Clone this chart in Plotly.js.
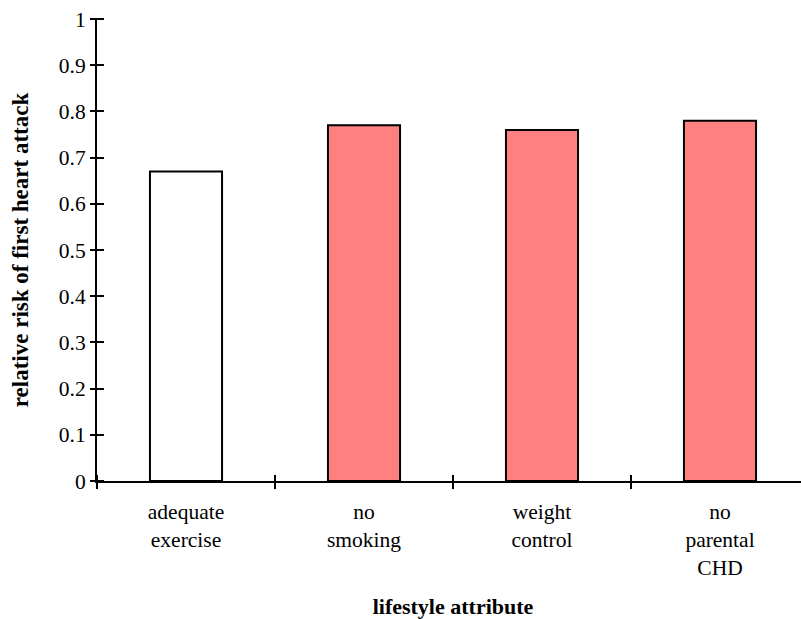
<!DOCTYPE html>
<html>
<head>
<meta charset="utf-8">
<script src="https://cdn.plot.ly/plotly-3.0.1.min.js"></script>
<style>
html, body { margin: 0; padding: 0; overflow: hidden; background: #fff; }
#chart { width: 812px; height: 619px; }
</style>
</head>
<body>
<div id="chart"></div>
<script>
const categories = ["adequate<br>exercise", "no<br>smoking", "weight<br>control", "no<br>parental<br>CHD"];
const relativeRisk = [0.67, 0.77, 0.76, 0.78];
const barColors = ["#FFFFFF", "#FF8080", "#FF8080", "#FF8080"];
const yTicks = [0, 0.1, 0.2, 0.3, 0.4, 0.5, 0.6, 0.7, 0.8, 0.9, 1];
const yTickText = ["0", "0.1", "0.2", "0.3", "0.4", "0.5", "0.6", "0.7", "0.8", "0.9", "1"];

const positions = categories.map((c, i) => i);
const boundaries = categories.map((c, i) => i - 0.5).concat([categories.length - 0.5]);
const xRange = [-0.5, categories.length - 0.5];

const tickFont = { family: "Liberation Serif", size: 21.5, color: "#000" };
const xTitleFont = { family: "Liberation Serif", size: 22, color: "#000", weight: "bold" };
const yTitleFont = { family: "Liberation Serif", size: 23, color: "#000", weight: "bold" };

// plot-area size; tick-only axes are shifted inward by half a tick so ticks cross the axis lines
const plotW = 712, plotH = 462, halfTick = 7;

const bars = {
  type: "bar",
  x: positions,
  y: relativeRisk,
  width: 0.405,
  marker: { color: barColors, line: { color: "#000", width: 2 } },
  hoverinfo: "y",
  xaxis: "x",
  yaxis: "y"
};
// empty helper traces so the overlaid label/line axes are drawn
const helperX2 = { type: "scatter", mode: "none", x: xRange, y: [0, 0], xaxis: "x2", yaxis: "y", hoverinfo: "skip", showlegend: false };
const helperY2 = { type: "scatter", mode: "none", x: xRange, y: [0, 0], xaxis: "x", yaxis: "y2", hoverinfo: "skip", showlegend: false };

const layout = {
  width: 812,
  height: 619,
  margin: { l: 97, r: 3, t: 19, b: 138 },
  paper_bgcolor: "#fff",
  plot_bgcolor: "rgba(0,0,0,0)",
  showlegend: false,
  // boundary ticks crossing the x axis line
  xaxis: {
    anchor: "free", position: halfTick / plotH, side: "bottom",
    range: xRange, tickmode: "array", tickvals: boundaries, showticklabels: false,
    ticks: "outside", ticklen: 2 * halfTick, tickwidth: 2, tickcolor: "#000",
    showgrid: false, zeroline: false, showline: false, fixedrange: true
  },
  // category labels, axis line and title
  xaxis2: {
    overlaying: "x", anchor: "y", side: "bottom",
    range: xRange,
    tickmode: "array",
    tickvals: positions,
    ticktext: categories,
    ticks: "outside",
    ticklen: 10,
    tickcolor: "rgba(0,0,0,0)",
    tickfont: tickFont,
    showgrid: false,
    zeroline: false,
    showline: true,
    linecolor: "#000",
    linewidth: 2,
    title: { text: "lifestyle attribute", font: xTitleFont, standoff: 30 },
    fixedrange: true
  },
  // value ticks crossing the y axis line, with labels and title
  yaxis: {
    anchor: "free", position: halfTick / plotW, side: "left",
    range: [0, 1],
    tickmode: "array",
    tickvals: yTicks,
    ticktext: yTickText,
    ticks: "outside",
    ticklen: 2 * halfTick,
    tickwidth: 2,
    tickcolor: "#000",
    tickfont: tickFont,
    showgrid: false,
    zeroline: false,
    showline: false,
    title: { text: "relative risk of first heart attack", font: yTitleFont, standoff: 22 },
    fixedrange: true
  },
  // y axis line
  yaxis2: {
    overlaying: "y", anchor: "x", side: "left",
    range: [0, 1], showticklabels: false, ticks: "",
    showgrid: false, zeroline: false, showline: true, linecolor: "#000", linewidth: 2,
    fixedrange: true
  }
};

Plotly.newPlot("chart", [bars, helperX2, helperY2], layout, { displayModeBar: false, staticPlot: true });
</script>
</body>
</html>
